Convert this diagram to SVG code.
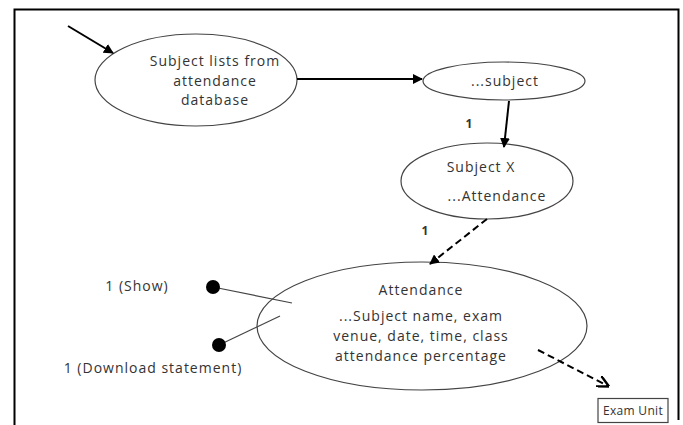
<svg xmlns="http://www.w3.org/2000/svg" width="683" height="425" viewBox="0 0 683 425">
<style>
text{font-family:"Open Sans","Liberation Sans",sans-serif;font-size:14px;letter-spacing:1px;fill:#333;text-anchor:middle}
.el{fill:none;stroke:#444;stroke-width:1.2}
.ar{fill:none;stroke:#000;stroke-width:2}
.da{fill:none;stroke:#000;stroke-width:2;stroke-dasharray:7,4}
.ln{fill:none;stroke:#444;stroke-width:1.2}
.num{font-size:12px;font-weight:bold;letter-spacing:0}
</style>
<defs>
<marker id="ah" viewBox="0 0 10 10" refX="9" refY="5" markerWidth="5" markerHeight="5" orient="auto"><path d="M0,0L10,5L0,10z" fill="#000"/></marker>
<marker id="oa" viewBox="0 0 10 10" refX="9" refY="5" markerWidth="6" markerHeight="6" orient="auto"><path d="M0,0L10,5L0,10" fill="none" stroke="#000" stroke-width="2"/></marker>
</defs>
<rect width="683" height="425" fill="#fff"/>
<path d="M14.5,425V9.5H678.5V420" fill="none" stroke="#000" stroke-width="2"/>
<g id="n1">
<ellipse class="el" cx="196" cy="80" rx="101" ry="46"/>
<text x="215" y="66">Subject lists from</text>
<text x="215" y="86">attendance</text>
<text x="215" y="105">database</text>
</g>
<g id="n2">
<ellipse class="el" cx="504" cy="81" rx="81" ry="19"/>
<text x="505" y="86">...subject</text>
</g>
<g id="n3">
<ellipse class="el" cx="487" cy="181" rx="86" ry="38"/>
<text x="481" y="172">Subject X</text>
<text x="497" y="201">...Attendance</text>
</g>
<g id="n4">
<ellipse class="el" cx="422" cy="326" rx="165" ry="64"/>
<text x="421" y="295">Attendance</text>
<text x="421" y="321">...Subject name, exam</text>
<text x="421" y="341">venue, date, time, class</text>
<text x="421" y="361">attendance percentage</text>
</g>
<g id="n5">
<rect x="598" y="398.5" width="70" height="24" fill="#fff" stroke="#444" stroke-width="1.2"/>
<text x="633" y="415" style="font-size:12px;letter-spacing:0.3px">Exam Unit</text>
</g>
<g id="connectors">
<path class="ar" d="M68,26L113,53" marker-end="url(#ah)"/>
<path class="ar" d="M297,79H422" marker-end="url(#ah)"/>
<path class="ar" d="M509,101L504,147" marker-end="url(#ah)"/>
<path class="da" d="M487,219L430,264" marker-end="url(#ah)"/>
<path class="da" d="M538,350L608,386" marker-end="url(#oa)"/>
<path class="ln" d="M213,287L292,303"/>
<path class="ln" d="M219,345L280,316"/>
<circle cx="213" cy="287" r="7" fill="#000"/>
<circle cx="219" cy="345" r="7" fill="#000"/>
<text class="num" x="469" y="128">1</text>
<text class="num" x="425" y="235">1</text>
<text x="137" y="291">1 (Show)</text>
<text x="153" y="373">1 (Download statement)</text>
</g>
</svg>
